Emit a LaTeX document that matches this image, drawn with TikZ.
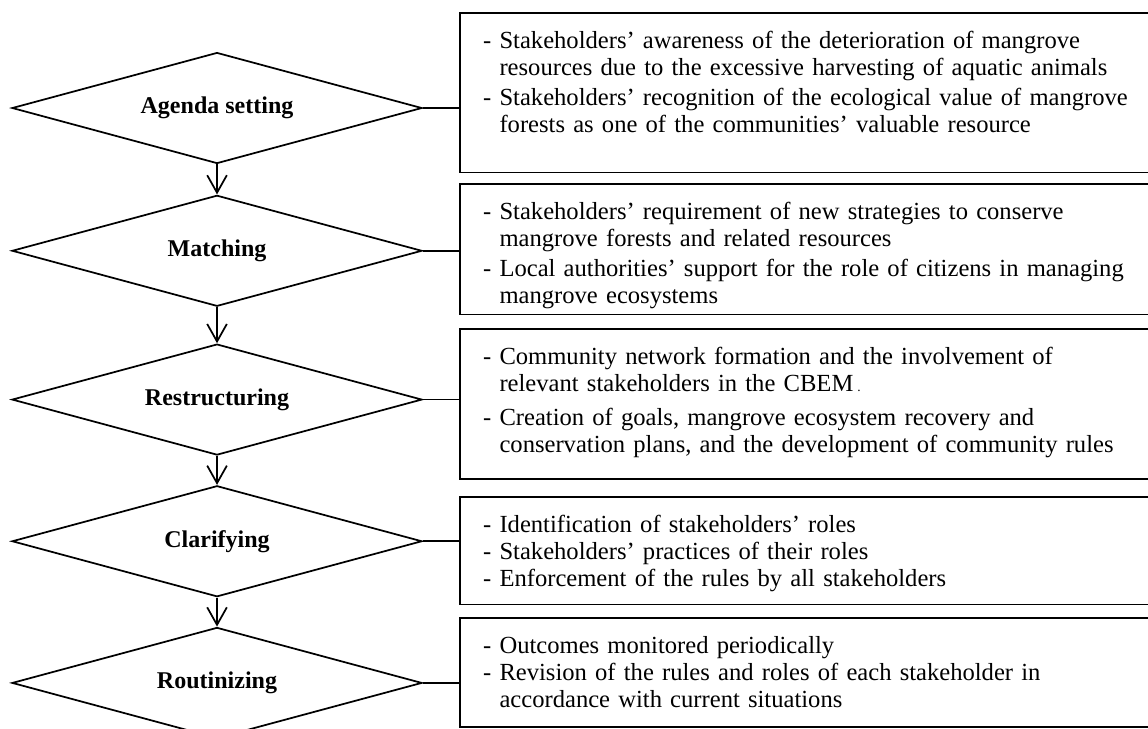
\documentclass[tikz,border=0pt]{standalone}
\usepackage{fontspec}
\setmainfont{Liberation Serif}
\usetikzlibrary{shapes.geometric, arrows.meta, positioning}

% dash in front of an item, and the matching hanging indent
\newcommand{\itm}{\makebox[8.6pt][l]{-}}
\newcommand{\cnt}{\hspace*{8.6pt}}

\begin{document}
\begin{tikzpicture}[
  node distance=0.53cm,
  stage/.style={diamond, aspect=3.7, draw=black, line width=0.9pt,
                minimum width=7.5cm, minimum height=2.03cm, inner sep=0pt,
                align=center, font=\bfseries\fontsize{12.5}{14}\selectfont},
  note/.style={rectangle, draw=black, line width=0.9pt, anchor=north west,
               text width=12.3cm, inner xsep=0.42cm, inner ysep=0pt,
               text height=18.5pt, align=left,
               font=\fontsize{12.8}{14}\selectfont},
  arr/.style={-{Straight Barb[length=3.2mm, width=3.6mm]}, line width=0.9pt},
  link/.style={line width=0.9pt}
]
\path[use as bounding box, clip] (0,0) rectangle (21,-13.335);
\fill[white] (0,0) rectangle (21,-13.335);

% stages
\node[stage] (agd) at (3.97,-1.976) {Agenda setting};
\node[stage, below=0.55cm of agd] (mat) {Matching};
\node[stage, below=0.66cm of mat] (res) {Restructuring};
\node[stage, below=of res] (cla) {Clarifying};
\node[stage, below=of cla] (rou) {Routinizing};

% what happens in each stage
\node[note, text depth=2.27cm] (agd-t) at (8.40,-0.22)
  {\itm Stakeholders' awareness of the deterioration of mangrove\\
   \cnt resources due to the excessive harvesting of aquatic animals\\[1.5pt]
   \itm Stakeholders' recognition of the ecological value of mangrove\\
   \cnt forests as one of the communities' valuable resource};
\node[note, text depth=1.74cm] (mat-t) at (8.40,-3.348)
  {\itm Stakeholders' requirement of new strategies to conserve\\
   \cnt mangrove forests and related resources\\[1.5pt]
   \itm Local authorities' support for the role of citizens in managing\\
   \cnt mangrove ecosystems};
\node[note, text depth=2.09cm] (res-t) at (8.40,-6.0)
  {\itm Community network formation and the involvement of\\
   \cnt relevant stakeholders in the CBEM\,{\scriptsize .}\\[4pt]
   \itm Creation of goals, mangrove ecosystem recovery and\\
   \cnt conservation plans, and the development of community rules};
\node[note, text depth=1.32cm] (cla-t) at (8.40,-9.073)
  {\itm Identification of stakeholders' roles\\
   \itm Stakeholders' practices of their roles\\
   \itm Enforcement of the rules by all stakeholders};
\node[note, text depth=1.34cm] (rou-t) at (8.40,-11.287)
  {\itm Outcomes monitored periodically\\
   \itm Revision of the rules and roles of each stakeholder in\\
   \cnt accordance with current situations};

\foreach \a/\b in {agd/mat, mat/res, res/cla, cla/rou}
  \draw[arr] (\a) -- (\b);
\foreach \a in {agd, mat, res, cla, rou}
  \draw[link] (\a.east) -- (\a.east -| \a-t.west);
\end{tikzpicture}
\end{document}
